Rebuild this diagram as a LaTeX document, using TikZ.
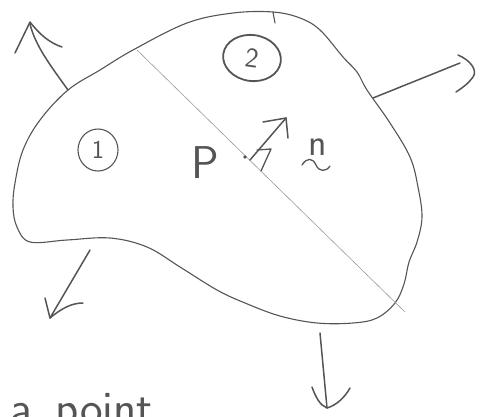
\documentclass[tikz,border=0pt]{standalone}
\usetikzlibrary{calc,shapes.geometric}
\definecolor{pencil}{HTML}{555555}
\definecolor{lightpencil}{HTML}{9A9A9A}
\begin{document}
\begin{tikzpicture}[x=1pt,y=-1pt,
  outline/.style={draw=pencil,line width=1.1pt,line cap=round,line join=round},
  thin line/.style={draw=lightpencil,line width=0.6pt},
  flux/.style={draw=pencil,line width=1.5pt,line cap=round,line join=round},
  lbl/.style={text=pencil,inner sep=0pt,font=\sffamily}]
\useasboundingbox (0,0) rectangle (482,416);
\clip (0,0) rectangle (482,416);
% body outline
\draw[outline] plot[smooth cycle,tension=0.6] coordinates {
 (68,90) (100,70) (133,50) (187,23) (233,13) (273,12) (300,18) (320,30)
 (343,57) (357,72) (367,90) (390,123) (410,157) (418,187) (422,217)
 (417,242) (409,262) (404,284) (395,303) (377,318) (353,323) (317,323)
 (280,316) (245,303) (217,290) (180,267) (147,247) (110,238) (67,240)
 (30,242) (17,227) (13,207) (15,183) (23,150) (40,120)};
% tick at top
\coordinate (t1) at (273,12);
\coordinate (t2) at (275,23);
\draw[outline] (t1) -- (t2);
% cutting plane
\coordinate (c1) at (137,50);
\coordinate (c2) at (405,312);
\draw[thin line] (c1) -- (c2);
% point P
\coordinate (P) at (245,157);
\fill[pencil] (P) circle (1.8pt);
\node[lbl,font=\sffamily\fontsize{46}{46}\selectfont] (Plbl) at (205,163) {P};
% normal
\coordinate (n0) at (250,160);
\coordinate (n1) at (286,118);
\draw[flux] (n0) -- (n1);
\draw[flux] (263,122) -- (n1) -- (288,138);
\draw[flux,line width=1.3pt] (257,150) -- (271,149) -- (261,171);
\node[lbl,anchor=base,font=\sffamily\fontsize{38}{38}\selectfont] (nlbl) at (318,155) {n};
\coordinate (tl) at (302,165);
\coordinate (tr) at (330,166);
\draw[flux,line width=1.3pt] (tl) .. controls (307,157) and (313,158) .. (316,165) .. controls (319,172) and (326,172) .. (tr);
% region labels
\node[lbl,draw=pencil,line width=1.1pt,ellipse,minimum width=40pt,minimum height=42pt,inner sep=0pt,
      font=\sffamily\fontsize{26}{26}\selectfont] (r1) at (98,150) {1};
\node[lbl,draw=pencil,line width=1.8pt,ellipse,minimum width=58pt,minimum height=46pt,inner sep=0pt,rotate=-8,
      font=\sffamily\fontsize{28}{28}\selectfont] (r2) at (252,58) {2};
% outward arrows
% upper left
\coordinate (a1s) at (68,90);
\coordinate (a1t) at (30,24);
\draw[flux] (a1s) .. controls (50,65) and (35,45) .. (a1t);
\draw[flux] (15,53) -- (30,22) .. controls (40,35) and (50,43) .. (62,47);
% right
\coordinate (a2s) at (373,98);
\coordinate (a2t) at (460,63);
\draw[flux] (a2s) -- (a2t);
\draw[flux] (458,55) .. controls (470,60) and (478,70) .. (473,77) .. controls (468,84) and (462,88) .. (456,92);
% lower left
\coordinate (a3s) at (90,250);
\coordinate (a3t) at (50,318);
\draw[flux] (a3s) -- (a3t);
\draw[flux] (45,298) -- (a3t) .. controls (62,308) and (72,303) .. (83,303);
% bottom
\coordinate (a4s) at (320,333);
\coordinate (a4t) at (327,408);
\draw[flux] (a4s) -- (a4t);
\draw[flux] (312,387) .. controls (316,398) and (320,405) .. (a4t) .. controls (337,405) and (345,397) .. (350,388);
% caption (cut off at the lower edge, as in the reference)
\node[lbl,anchor=base west,font=\sffamily\fontsize{48}{48}\selectfont] (cap) at (10,424) {a\,\,\,point};
\end{tikzpicture}
\end{document}
